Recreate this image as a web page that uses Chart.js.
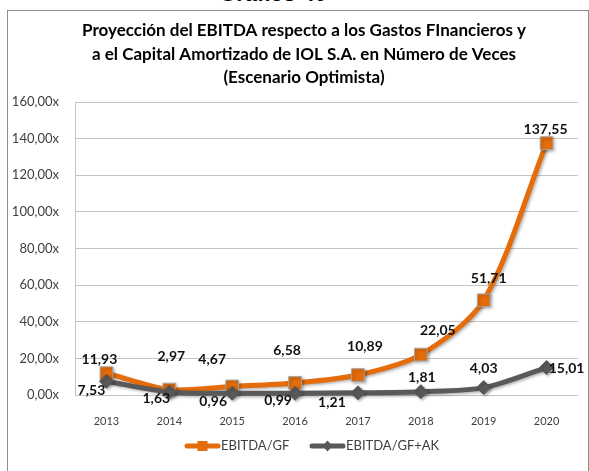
<!DOCTYPE html>
<html>
<head>
<meta charset="utf-8">
<title>Gráfico 40</title>
<script src="https://cdn.jsdelivr.net/npm/chart.js@4.4.0/dist/chart.umd.min.js"></script>
<style>
  html, body { margin: 0; padding: 0; background: #fff; }
  body { width: 589px; height: 471px; position: relative; overflow: hidden; }
  .heading { position: absolute; left: 0; top: -19px; width: 546px; text-align: center;
             font: bold 22px "Liberation Sans", Arial, sans-serif; color: #000; }
  .frame { position: absolute; left: 7px; top: 10px; width: 580px; height: 470px; border: 1px solid #8c8c8c; }
  canvas { position: absolute; left: 0; top: 0; }
</style>
</head>
<body>
<div class="heading">Gráfico 40</div>
<div class="frame"></div>
<canvas id="grafico" width="589" height="471"></canvas>
<script>
// datos
const years = ['2013', '2014', '2015', '2016', '2017', '2018', '2019', '2020'];
const ebitdaGF = [11.93, 2.97, 4.67, 6.58, 10.89, 22.05, 51.71, 137.55];
const ebitdaGFAK = [7.53, 1.63, 0.96, 0.99, 1.21, 1.81, 4.03, 15.01];

const tituloLineas = [
  'Proyección del EBITDA respecto a los Gastos FInancieros y',
  'a el Capital Amortizado de IOL S.A. en Número de Veces',
  '(Escenario Optimista)'
];

// posicion de las etiquetas respecto al punto [dx, dy]
const gfLabelOffsets = [[-7, -14], [2, -33], [-20, -27], [-8, -32], [7, -29], [17, -24], [5, -22], [-1, -14]];
const akLabelOffsets = [[-15, 9], [-13, 6], [-19, 8], [-17, 7], [-26, 10], [1, -14], [0, -19], [20, 1]];

const naranja = '#e46c0a';
const gris = '#595959';

const fmt = v => v.toFixed(2).replace('.', ',');

// titulo centrado sobre el recuadro
const titulo = {
  id: 'titulo',
  afterDraw(chart) {
    const ctx = chart.ctx;
    ctx.save();
    ctx.font = 'bold 17px Lato';
    ctx.fillStyle = '#000';
    ctx.textAlign = 'center';
    ctx.textBaseline = 'middle';
    tituloLineas.forEach((t, i) => ctx.fillText(t, 304, 31 + i * 23.5));
    ctx.restore();
  }
};

// sombra suave bajo lineas y marcadores
const sombra = {
  id: 'sombra',
  beforeDatasetDraw(chart) {
    const ctx = chart.ctx;
    ctx.save();
    ctx.shadowColor = 'rgba(0,0,0,0.3)';
    ctx.shadowBlur = 3;
    ctx.shadowOffsetX = 1.5;
    ctx.shadowOffsetY = 1.5;
  },
  afterDatasetDraw(chart) {
    chart.ctx.restore();
  }
};

// etiquetas de valores
const etiquetas = {
  id: 'etiquetas',
  afterDatasetsDraw(chart) {
    const ctx = chart.ctx;
    ctx.save();
    ctx.font = 'bold 14px Lato';
    ctx.fillStyle = '#111';
    ctx.textAlign = 'center';
    ctx.textBaseline = 'middle';
    chart.data.datasets.forEach((ds, i) => {
      const offs = ds.labelOffsets;
      chart.getDatasetMeta(i).data.forEach((pt, j) => {
        ctx.fillText(fmt(ds.data[j]), pt.x + offs[j][0], pt.y + offs[j][1]);
      });
    });
    ctx.restore();
  }
};

// leyenda abajo (linea con marcador)
const leyenda = {
  id: 'leyenda',
  afterDraw(chart) {
    const ctx = chart.ctx;
    const y = 446;
    const items = [
      { x: 185, color: naranja, texto: 'EBITDA/GF', forma: 'cuadro' },
      { x: 310, color: gris, texto: 'EBITDA/GF+AK', forma: 'rombo' }
    ];
    ctx.save();
    items.forEach(it => {
      ctx.strokeStyle = it.color;
      ctx.lineWidth = 5;
      ctx.lineCap = 'round';
      ctx.beginPath();
      ctx.moveTo(it.x + 2, y);
      ctx.lineTo(it.x + 33, y);
      ctx.stroke();
      const cx = it.x + 17.5;
      ctx.fillStyle = it.color;
      ctx.beginPath();
      if (it.forma === 'cuadro') {
        ctx.rect(cx - 5, y - 5, 10, 10);
      } else {
        ctx.moveTo(cx, y - 5.5);
        ctx.lineTo(cx + 5, y);
        ctx.lineTo(cx, y + 5.5);
        ctx.lineTo(cx - 5, y);
        ctx.closePath();
      }
      ctx.fill();
      ctx.fillStyle = '#404040';
      ctx.font = '13px Lato';
      ctx.textAlign = 'left';
      ctx.textBaseline = 'middle';
      ctx.fillText(it.texto, it.x + 36, y);
    });
    ctx.restore();
  }
};

new Chart(document.getElementById('grafico'), {
  type: 'line',
  data: {
    labels: years,
    datasets: [
      {
        label: 'EBITDA/GF',
        data: ebitdaGF,
        labelOffsets: gfLabelOffsets,
        borderColor: naranja,
        backgroundColor: naranja,
        borderWidth: 5,
        tension: 0.3,
        pointStyle: 'rect',
        pointRadius: 9,
        pointBorderColor: '#a6a6a6',
        pointBorderWidth: 1,
        clip: false,
        order: 2
      },
      {
        label: 'EBITDA/GF+AK',
        data: ebitdaGFAK,
        labelOffsets: akLabelOffsets,
        borderColor: gris,
        backgroundColor: gris,
        borderWidth: 5,
        tension: 0.3,
        pointStyle: 'rectRot',
        pointRadius: 7,
        pointBorderColor: gris,
        pointBorderWidth: 1,
        clip: false,
        order: 1
      }
    ]
  },
  options: {
    responsive: false,
    animation: false,
    events: [],
    layout: { padding: { left: 0, right: 11, top: 102, bottom: 0 } },
    scales: {
      x: {
        offset: true,
        grid: { display: false, drawTicks: false },
        border: { display: false },
        ticks: { padding: 20, color: '#404040', font: { family: 'Lato', size: 11 } },
        afterFit: s => { s.height = 76; }
      },
      y: {
        min: 0,
        max: 160,
        grid: { color: '#c4c4c4', drawTicks: false },
        border: { display: true, color: '#c4c4c4' },
        ticks: {
          stepSize: 20,
          padding: 16,
          color: '#404040',
          font: { family: 'Lato', size: 13 },
          callback: v => fmt(v) + 'x'
        },
        afterFit: s => { s.width = 75; }
      }
    },
    plugins: {
      legend: { display: false },
      tooltip: { enabled: false },
      title: { display: false }
    }
  },
  plugins: [titulo, sombra, etiquetas, leyenda]
});
</script>
</body>
</html>
